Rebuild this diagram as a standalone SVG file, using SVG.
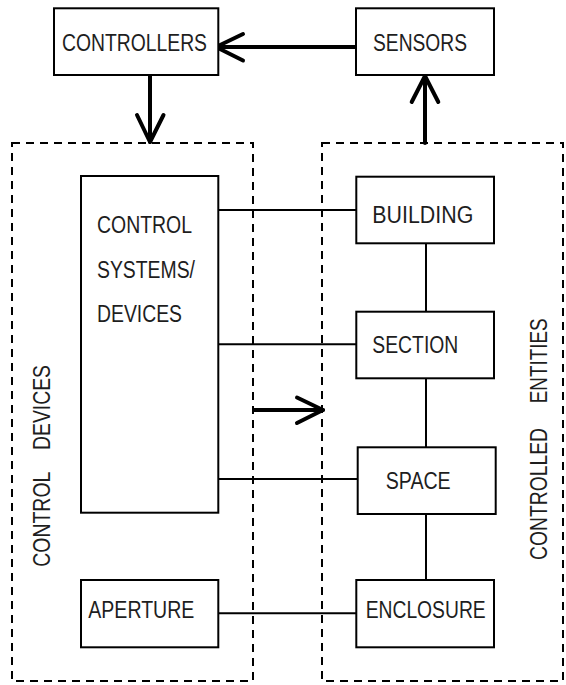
<svg xmlns="http://www.w3.org/2000/svg" width="566" height="685" viewBox="0 0 566 685">
  <style>
    .box { fill: #ffffff; stroke: #000000; stroke-width: 2; }
    .group { fill: none; stroke: #000000; stroke-width: 2; stroke-dasharray: 8 6; }
    .link { fill: none; stroke: #000000; stroke-width: 2; }
    .flow { fill: none; stroke: #000000; stroke-width: 4; stroke-linecap: round; stroke-linejoin: round; }
    .label { font-family: "Liberation Sans", Arial, sans-serif; font-size: 23px; fill: #1e1e1e; }
  </style>
  <rect width="566" height="685" fill="#ffffff"/>

  <!-- dashed groupings -->
  <g id="control-devices-group">
    <rect class="group" x="12" y="143" width="241" height="538"/>
    <text class="label" transform="translate(50,566.7) rotate(-90)" textLength="95" lengthAdjust="spacingAndGlyphs">CONTROL</text>
    <text class="label" transform="translate(50,450) rotate(-90)" textLength="85" lengthAdjust="spacingAndGlyphs">DEVICES</text>
  </g>
  <g id="controlled-entities-group">
    <rect class="group" x="322" y="143" width="241" height="538"/>
    <text class="label" transform="translate(547,560) rotate(-90)" textLength="132" lengthAdjust="spacingAndGlyphs">CONTROLLED</text>
    <text class="label" transform="translate(547,403.3) rotate(-90)" textLength="85" lengthAdjust="spacingAndGlyphs">ENTITIES</text>
  </g>

  <!-- connectors -->
  <g id="connectors">
    <line class="link" x1="218" y1="210" x2="356" y2="210"/>
    <line class="link" x1="218" y1="344.3" x2="356" y2="344.3"/>
    <line class="link" x1="218" y1="479" x2="357.7" y2="479"/>
    <line class="link" x1="218" y1="613.3" x2="356" y2="613.3"/>
    <line class="link" x1="426" y1="243.3" x2="426" y2="311.7"/>
    <line class="link" x1="426" y1="378.3" x2="426" y2="447.3"/>
    <line class="link" x1="426" y1="514" x2="426" y2="580"/>

    <!-- sensors to controllers -->
    <line class="flow" x1="356" y1="47" x2="216" y2="47"/>
    <polyline class="flow" points="243,34 216,47 243,60.5"/>
    <!-- controllers to control devices -->
    <line class="flow" x1="150" y1="75" x2="150" y2="142"/>
    <polyline class="flow" points="137,115 150,142 163.5,115"/>
    <!-- controlled entities to sensors -->
    <line class="flow" x1="425" y1="143" x2="425" y2="76"/>
    <polyline class="flow" points="411.7,102 425,76 438.3,102"/>
    <!-- control devices act on controlled entities -->
    <line class="flow" x1="254" y1="410" x2="323" y2="410"/>
    <polyline class="flow" points="297,397.5 323,410 297,423"/>
  </g>

  <g id="controllers">
    <rect class="box" x="54" y="8.3" width="164.3" height="66.7"/>
    <text class="label" x="62" y="51" textLength="145" lengthAdjust="spacingAndGlyphs">CONTROLLERS</text>
  </g>
  <g id="sensors">
    <rect class="box" x="356" y="8.3" width="138" height="66.7"/>
    <text class="label" x="373" y="51" textLength="94" lengthAdjust="spacingAndGlyphs">SENSORS</text>
  </g>
  <g id="control-systems">
    <rect class="box" x="81" y="176" width="137.3" height="336.7"/>
    <text class="label" x="97" y="233" textLength="95" lengthAdjust="spacingAndGlyphs">CONTROL</text>
    <text class="label" x="97" y="278" textLength="98" lengthAdjust="spacingAndGlyphs">SYSTEMS/</text>
    <text class="label" x="97" y="321.7" textLength="85" lengthAdjust="spacingAndGlyphs">DEVICES</text>
  </g>
  <g id="aperture">
    <rect class="box" x="81" y="580" width="137.3" height="67.3"/>
    <text class="label" x="88.3" y="618.3" textLength="106" lengthAdjust="spacingAndGlyphs">APERTURE</text>
  </g>
  <g id="building">
    <rect class="box" x="356.3" y="176.7" width="137.7" height="66.6"/>
    <text class="label" x="372.3" y="223.3" textLength="101" lengthAdjust="spacingAndGlyphs">BUILDING</text>
  </g>
  <g id="section">
    <rect class="box" x="356.3" y="311.7" width="137.7" height="66.6"/>
    <text class="label" x="372.3" y="353.3" textLength="86" lengthAdjust="spacingAndGlyphs">SECTION</text>
  </g>
  <g id="space">
    <rect class="box" x="357.7" y="447.3" width="138" height="66.7"/>
    <text class="label" x="385.7" y="489.3" textLength="65" lengthAdjust="spacingAndGlyphs">SPACE</text>
  </g>
  <g id="enclosure">
    <rect class="box" x="356.3" y="580" width="137.7" height="67.3"/>
    <text class="label" x="365.7" y="618.3" textLength="120" lengthAdjust="spacingAndGlyphs">ENCLOSURE</text>
  </g>
</svg>
